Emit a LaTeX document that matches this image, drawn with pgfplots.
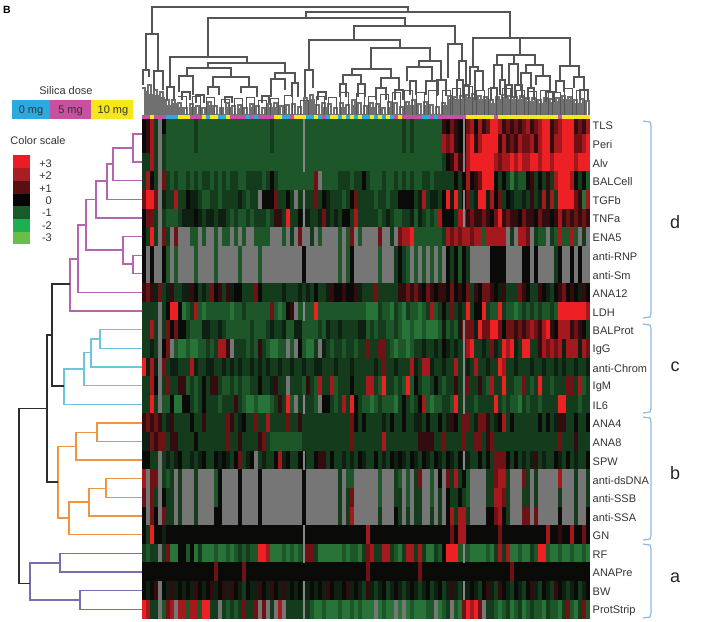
\documentclass[border=0pt]{standalone}
\usepackage{fontspec}
\setmainfont{Liberation Sans}
\usepackage{pgfplots}
\usepackage{pgfplotstable}
\pgfplotsset{compat=1.18}
\definecolor{dmag}{RGB}{181,101,172}
\definecolor{dcya}{RGB}{108,197,216}
\definecolor{dora}{RGB}{238,148,69}
\definecolor{dpur}{RGB}{123,108,173}
\definecolor{dblk}{RGB}{45,45,45}
\definecolor{dgry}{RGB}{85,85,85}
\definecolor{lgry}{RGB}{112,112,112}
\definecolor{brak}{RGB}{143,184,222}
\definecolor{mgry}{RGB}{135,135,135}
\pgfdeclareplotmark{cell}{\pgfpathrectangle{\pgfqpoint{-2.15pt}{-9.45pt}}{\pgfqpoint{4.3pt}{18.9pt}}\pgfusepathqfill}
\pgfdeclareplotmark{thincell}{\pgfpathrectangle{\pgfqpoint{-0.8pt}{-9.45pt}}{\pgfqpoint{1.6pt}{18.9pt}}\pgfusepathqfill}
\pgfdeclareplotmark{stripcell}{\pgfpathrectangle{\pgfqpoint{-2.1pt}{-1.7pt}}{\pgfqpoint{4.2pt}{3.4pt}}\pgfusepathqfill}
\pgfplotstableread[header=false]{
11 11 12 11 11 11 10 10 10 12  12 12 11 11 11 12 10 12 12 10  10 12 11 11 11 11 10 11 10 11  11 11 11 12 12 10 10 11 12 12  12 10 10 12 10 11 10 12 12 10  12 10 12 10 12 10 10 12 10 12  10 12 10 11 12 11 11 11 11 11  10 10 11 10 11 11 11 11 11 11  11 12 12 12 12 12 12 12 11 12  12 12 12 12 12 12 12 12 12 12  12 12 12 12 11 12 12 12 12 12  12 12
5 6 8 3 0 5 2 2 2 2  2 2 2 3 2 2 2 2 2 2  2 2 2 2 2 2 2 2 2 2  2 2 3 2 2 2 2 2 2 2  2 2 2 2 2 2 2 2 2 2  2 2 2 2 2 2 2 2 2 2  2 2 2 2 2 3 2 3 2 2  2 2 2 2 2 6 5 7 6 5  5 7 8 5 8 6 7 9 9 8  6 7 6 7 6 7 8 6 7 8  9 9 6 7 8 9 9 9 6 7  6 8
5 6 8 3 0 3 2 2 2 2  2 2 2 3 2 2 2 2 2 2  2 2 2 2 2 2 2 2 2 2  2 2 3 2 2 2 2 2 2 2  2 2 2 2 2 2 2 2 2 2  2 2 2 2 2 2 2 2 2 2  2 2 2 2 2 3 2 3 2 2  2 2 2 2 2 8 7 8 6 5  5 8 9 6 8 9 9 9 9 6  8 6 7 6 8 7 7 8 6 8  9 9 6 8 8 9 9 9 7 7  8 9
3 3 8 3 0 3 2 2 2 2  2 2 2 2 2 2 2 2 2 2  2 2 2 2 2 2 2 2 2 2  2 2 2 2 2 2 2 2 2 2  2 2 2 2 2 2 2 2 2 2  2 2 2 2 2 2 2 2 2 2  2 2 2 2 2 2 2 2 2 2  2 2 2 2 2 3 5 6 8 6  6 8 9 9 9 9 9 9 8 7  8 8 9 8 9 8 8 9 9 8  9 9 8 9 9 9 9 9 8 9  9 9
3 8 5 3 0 7 3 2 3 2  2 3 2 3 2 3 3 2 3 2  3 2 3 3 2 2 3 3 3 3  2 3 5 3 2 2 2 2 2 2  2 2 2 7 0 2 2 2 2 3  3 3 2 3 3 5 3 2 2 2  3 2 2 3 2 3 2 3 2 2  3 3 2 3 3 3 3 3 5 3  5 8 5 6 7 9 9 9 5 3  5 3 1 3 2 2 5 6 3 5  3 6 3 8 9 9 9 8 5 3  5 2
7 9 9 7 0 4 3 3 8 3  3 5 4 4 3 2 2 3 3 2  3 3 3 3 4 3 2 3 3 0  5 5 5 7 3 3 5 3 0 3  3 3 3 7 3 5 4 3 3 3  2 3 5 7 3 3 3 3 2 3  3 2 3 3 5 5 5 5 3 4  8 3 4 4 3 5 9 4 9 3  5 7 3 4 9 9 4 8 5 7  3 5 4 3 3 4 3 6 3 4  8 4 8 3 9 9 9 9 7 6  1 8
5 7 7 3 0 3 2 2 2 3  4 4 4 5 4 3 4 4 3 4  4 3 2 3 2 2 3 2 3 3  3 2 3 6 6 3 9 3 3 5  4 4 3 3 4 7 4 3 4 3  5 5 3 8 3 3 3 3 3 2  3 4 3 2 2 3 3 4 2 4  3 2 3 2 8 5 5 5 3 8  8 6 7 6 6 7 6 5 7 9  6 7 6 6 5 7 6 6 5 7  6 6 5 6 8 6 7 6 7 6  7 6
5 3 9 3 0 7 3 0 7 0  0 0 2 2 0 2 0 0 2 0  2 2 0 2 0 2 0 0 2 2  2 2 0 0 0 2 0 3 0 7  0 0 3 0 2 0 0 0 0 2  0 2 7 0 2 0 0 0 0 7  0 0 3 0 7 8 8 9 2 2  2 2 2 2 2 3 8 7 8 7  8 8 7 8 8 2 8 8 8 8  8 0 3 0 8 8 7 0 3 2  2 0 3 2 8 2 2 8 2 0  3 0
5 0 5 0 0 5 2 0 2 0  0 0 0 2 0 0 0 0 2 0  0 0 0 0 2 0 0 0 0 2  0 0 0 0 0 0 0 0 0 0  5 0 0 0 0 0 0 0 0 2  0 2 5 0 0 0 0 0 0 2  0 0 0 3 5 3 2 0 2 0  2 0 2 0 2 0 5 3 5 2  5 3 0 0 0 0 0 5 5 5  5 0 0 0 0 5 5 0 5 0  0 0 0 3 5 0 0 5 0 5  0 0
5 0 5 0 0 5 2 0 2 0  0 0 0 2 0 0 0 0 2 0  0 0 0 0 2 0 0 0 0 2  0 0 0 0 0 0 0 0 0 0  5 0 0 0 0 0 0 0 0 2  0 2 5 0 0 0 0 0 0 2  0 0 0 3 5 3 2 0 2 0  2 0 2 0 2 0 5 3 5 2  5 3 0 0 0 0 0 5 5 5  5 0 0 0 0 5 5 0 5 0  0 0 0 3 5 0 0 5 0 5  0 0
6 7 6 4 7 3 4 6 3 3  4 4 6 5 3 4 3 7 5 6  3 6 4 5 5 3 3 3 7 5  3 3 3 3 3 4 3 3 3 4  3 4 3 5 3 3 4 6 5 5  6 5 5 6 4 3 3 3 7 3  3 3 3 3 6 6 7 6 7 6  5 7 6 5 6 6 5 7 5 6  5 7 3 6 5 7 7 6 5 4  6 3 3 3 7 6 5 3 3 6  5 4 3 5 6 7 5 6 5 4  6 5
3 3 3 3 0 3 5 9 9 5  1 2 3 8 2 1 2 2 2 2  2 2 1 2 2 3 2 2 2 2  2 2 7 2 1 2 5 6 0 2  2 2 2 9 2 2 2 2 2 2  2 2 2 2 2 2 1 1 1 3  2 2 1 3 2 1 3 2 2 1  2 3 8 2 3 5 3 7 3 4  3 9 3 5 5 9 3 2 2 9  3 2 2 1 2 3 2 3 2 3  2 2 3 2 9 9 9 9 9 9  9 8
3 3 8 3 0 3 7 5 7 5  5 3 2 2 2 4 4 3 3 4  3 2 2 2 2 2 2 3 2 2  2 3 4 3 3 4 2 2 4 4  2 2 2 2 3 2 4 3 3 4  3 3 3 3 4 4 2 3 2 3  3 2 2 3 2 1 1 2 1 1  2 1 1 1 2 4 2 3 2 4  7 7 7 4 9 7 7 9 9 7  5 7 7 6 7 6 7 8 7 6  8 9 6 5 8 8 8 6 7 6  5 3
3 3 4 3 0 5 7 0 2 1  1 2 1 1 2 2 3 2 3 8  8 6 0 3 3 3 2 3 2 6  3 2 1 1 2 2 0 2 0 5  2 1 1 3 0 4 3 2 3 3  2 3 3 2 3 3 7 3 3 7  7 3 2 1 2 2 1 2 3 3  4 3 3 4 3 5 4 3 4 3  3 8 9 3 3 4 3 7 4 3  9 8 9 4 3 9 9 3 3 6  8 7 8 7 8 4 8 8 8 4  8 7
9 4 8 4 0 7 3 4 4 3  3 3 8 4 3 3 4 4 3 3  4 3 4 3 4 3 3 4 3 4  3 4 3 3 4 3 3 4 3 3  4 3 3 4 4 3 3 3 4 3  3 3 4 3 3 3 3 3 4 3  7 3 3 4 3 3 3 8 4 3  8 8 4 3 3 4 3 3 8 3  3 4 3 8 3 3 4 3 3 9  8 3 3 4 3 3 3 4 3 3  4 3 3 4 3 4 3 3 4 3  3 4
3 3 8 5 0 3 7 3 3 6  6 2 3 2 3 5 3 6 6 3  2 2 3 2 3 2 2 3 3 5  3 3 4 6 3 3 0 3 3 3  2 6 3 2 8 3 3 8 2 3  3 3 5 3 3 3 8 8 3 2  9 3 3 2 3 2 9 2 5 3  2 2 3 5 3 2 3 3 6 3  3 7 3 3 6 3 2 8 3 3  9 3 3 2 2 7 3 2 3 9  3 3 2 3 3 3 7 7 3 8  2 3
3 3 9 3 0 2 2 5 1 1  5 5 3 2 3 5 3 3 3 2  3 3 3 6 3 2 1 1 2 1  1 1 2 3 6 3 9 2 0 3  3 3 3 2 0 5 5 3 2 3  8 3 9 5 3 2 2 1 2 3  2 2 2 1 3 5 3 2 3 5  8 2 1 2 2 3 3 2 9 3  3 3 3 2 3 3 3 3 9 3  2 3 2 2 1 3 2 3 3 2  3 3 3 3 9 9 3 3 3 2  3 3
6 7 6 7 6 3 4 6 3 3  3 3 5 3 3 6 3 3 3 3  3 7 6 3 4 5 3 3 7 3  3 8 3 3 3 3 7 3 3 6  3 3 3 3 3 3 3 3 3 3  3 3 7 5 3 5 3 3 3 3  4 3 5 3 3 5 3 3 4 4  3 5 3 3 5 3 4 6 5 3  7 7 3 4 7 7 6 3 4 5  8 3 5 3 3 3 3 3 3 5  3 5 3 4 6 6 3 3 5 3  3 5
4 4 7 6 7 7 3 6 6 3  3 3 3 5 3 3 3 3 3 3  3 7 3 3 6 3 3 3 3 6  7 3 2 2 2 2 2 2 2 2  3 3 3 3 3 3 3 3 3 3  3 3 7 3 3 3 3 3 3 3  8 3 3 3 3 3 3 3 3 6  6 6 6 3 3 7 3 3 3 3  7 3 3 7 7 3 6 7 3 3  3 3 3 3 3 3 3 3 3 3  3 3 3 3 7 3 3 3 6 3  3 3
5 5 3 3 0 3 4 3 4 5  3 3 4 3 4 5 3 3 5 4  5 4 3 5 7 3 4 5 0 3  4 3 3 5 8 4 5 3 3 5  5 3 3 5 6 6 3 5 3 3  4 3 4 3 5 4 3 3 5 3  4 3 5 4 5 4 3 5 4 3  5 4 3 5 4 3 5 4 3 5  4 4 3 3 5 3 5 3 7 7  7 5 3 5 3 4 3 4 6 3  4 3 3 5 4 3 5 3 4 3  3 5
8 0 7 7 0 3 2 3 0 3  0 0 0 3 0 0 0 0 2 5  0 0 0 0 5 0 0 0 0 5  0 0 0 0 0 0 0 0 0 0  5 0 0 0 0 0 0 0 0 3  0 2 2 0 0 0 0 0 0 2  0 0 0 3 2 0 2 0 3 7  0 0 2 0 5 0 7 3 8 3  5 2 0 0 0 0 3 3 7 8  8 3 0 0 0 7 3 0 3 0  0 0 0 0 8 0 0 0 3 0  0 3
7 0 7 3 0 5 3 3 0 3  0 0 0 3 0 0 0 0 2 5  0 0 0 0 5 0 0 0 0 5  0 0 0 0 0 0 0 0 0 0  5 0 0 0 0 0 0 0 0 3  0 3 7 0 0 0 0 0 0 2  0 0 0 3 3 0 2 0 3 3  0 0 2 0 3 0 5 3 3 5  3 2 0 0 0 0 3 3 8 8  7 3 0 0 0 3 3 0 3 0  0 0 0 0 3 0 0 0 3 0  0 3
5 0 7 5 0 7 3 3 0 3  0 0 0 3 0 0 0 0 5 5  0 0 0 0 5 0 0 0 0 5  0 0 0 0 0 0 0 0 0 0  5 0 0 0 0 0 0 0 0 3  0 3 8 0 0 0 0 0 0 3  0 0 0 5 3 0 3 0 3 3  0 0 3 0 3 0 5 8 3 8  8 3 0 0 0 0 5 5 7 8  5 3 0 0 0 7 7 0 7 0  0 0 0 0 5 0 0 0 3 0  0 5
5 3 9 5 5 4 5 5 5 5  5 5 5 5 5 5 5 5 5 5  5 5 5 5 5 5 5 5 5 5  5 5 5 5 5 5 5 5 5 5  5 5 5 5 5 5 5 5 5 5  5 5 5 5 5 5 8 5 5 5  5 5 5 5 5 5 5 5 5 5  5 5 5 5 5 5 5 7 5 8  8 5 5 5 5 5 5 5 5 7  5 5 5 5 5 5 5 5 5 5  5 8 5 5 6 5 5 8 5 5  7 5
3 2 3 3 0 3 7 1 1 5  5 2 5 1 3 1 1 1 2 1  1 2 1 2 3 2 3 2 2 9  9 8 1 1 1 2 1 2 1 2  3 7 7 3 1 1 1 1 1 1  2 1 2 2 1 3 7 8 3 3  8 8 3 2 1 3 8 8 3 8  3 1 1 3 2 5 9 9 9 2  2 2 1 1 1 1 2 1 3 8  3 8 1 1 2 1 1 3 2 9  9 2 1 1 2 1 1 2 1 1  2 1
5 5 5 5 5 5 5 5 5 5  5 5 5 5 5 5 5 5 7 5  5 5 5 5 5 7 5 5 5 5  5 5 5 5 5 5 5 5 5 5  5 5 5 5 5 5 5 5 5 5  5 5 5 5 5 5 7 5 5 5  5 5 5 5 5 5 5 5 5 7  5 5 5 5 5 5 5 5 5 5  5 5 5 5 5 5 5 5 5 5  5 5 7 5 5 5 5 5 5 5  5 5 5 5 5 5 5 5 5 5  5 5
5 4 5 6 0 5 4 6 4 5  4 5 4 6 5 4 5 6 4 5  6 4 6 5 4 3 5 4 4 6  5 4 6 5 4 6 4 5 4 5  4 4 5 4 5 4 6 5 4 4  5 6 4 5 4 3 6 4 3 4  5 3 4 5 4 3 4 5 4 3  4 5 3 4 5 3 4 6 4 3  4 4 5 4 3 5 6 4 3 6  5 4 3 5 4 3 5 6 4 3  5 4 3 6 5 4 3 4 5 3  4 5
9 8 3 3 0 2 7 8 0 8  8 2 8 8 2 9 9 3 3 0  3 2 3 2 3 7 3 3 7 0  7 0 3 0 8 0 3 3 3 3  3 3 2 1 1 2 1 1 1 2  1 1 2 1 2 1 1 1 0 1  2 1 1 0 1 0 1 2 1 1  1 2 2 0 1 2 3 0 2 1  7 9 8 9 7 0 3 3 2 1  2 3 1 2 3 1 2 3 2 2  1 3 2 2 1 3 7 2 1 3  7 2
}\rawheat
\pgfplotstabletranspose\heat{\rawheat}
\begin{document}
\begin{tikzpicture}[x=1pt,y=1pt,every node/.style={font=\fontsize{11}{13}\selectfont,text=black!80,inner sep=0pt}]
\useasboundingbox (0,0) rectangle (708,621);
\begin{axis}[at={(0,0)},anchor=south west,width=708pt,height=621pt,scale only axis,
  xmin=0,xmax=708,ymin=0,ymax=621,y dir=reverse,hide axis,clip=false,
  unbounded coords=jump,
  point meta min=0,point meta max=12,
  colormap={heat}{rgb255(0)=(118,118,118) rgb255(1)=(40,115,55) rgb255(2)=(29,86,41) rgb255(3)=(20,60,28) rgb255(4)=(14,32,18) rgb255(5)=(10,10,9) rgb255(6)=(50,12,14) rgb255(7)=(110,18,22) rgb255(8)=(165,25,30) rgb255(9)=(237,32,36) rgb255(10)=(41,171,226) rgb255(11)=(201,79,160) rgb255(12)=(247,231,26)}]
% heat map
\pgfplotsinvokeforeach{1,...,27}{
\addplot[scatter,only marks,mark=cell,point meta=\thisrow{#1}] table[x expr=144+4*\thisrow{colnames},y expr=124.8+18.63*(#1-1)] {\heat};
}
\addplot[only marks,mark=thincell,color=mgry,mark options={fill=mgry}] coordinates {(304,124.8)(304,143.4)(304,162.1)(304,199.3)(304,218)(304,311.1)(304,404.3)(304,460.1)(304,534.7)(304,553.3)(304,590.5)(304,609.2)(464,124.8)(464,143.4)(464,162.1)(464,199.3)(464,218)(464,329.7)(464,348.4)(464,367)(464,385.6)(464,404.3)(464,460.1)(464,553.3)(464,590.5)};
\addplot[scatter,only marks,mark=stripcell,point meta=\thisrow{0}] table[x expr=144+4*\thisrow{colnames},y expr=116.8] {\heat};
% top dendrogram: fine leaves
\addplot[const plot,no marks,color=lgry,line width=1.15pt] coordinates {(142,88)(145,115)(148,85)(151,115)(154,90)(157,115)(160,92)(163,115)(166,100)(169,115)(172,100)(175,115)(178,103)(181,115)(184,108)(187,115)(190,104)(193,115)(196,106)(199,115)(202,108)(205,115)(208,102)(211,115)(214,106)(217,115)(220,108)(223,115)(226,103)(229,115)(232,106)(235,115)(238,105)(241,115)(244,108)(247,115)(250,104)(253,115)(256,106)(259,115)(262,108)(265,115)(268,104)(271,115)(274,103)(277,115)(280,106)(283,115)(286,105)(289,115)(292,104)(295,115)(298,107)(301,115)(304,98)(307,115)(310,95)(313,115)(316,105)(319,115)(322,103)(325,115)(328,104)(331,115)(334,108)(337,115)(340,103)(343,115)(346,105)(349,115)(352,100)(355,115)(358,103)(361,115)(364,106)(367,115)(370,103)(373,115)(376,104)(379,115)(382,108)(385,115)(388,102)(391,115)(394,103)(397,115)(400,107)(403,115)(406,102)(409,115)(412,100)(415,115)(418,104)(421,115)(424,102)(427,115)(430,105)(433,115)(436,107)(439,115)(442,103)(445,115)(448,96)(451,115)(454,97)(457,115)(460,96)(463,115)(466,95)(469,115)(472,94)(475,115)(478,96)(481,115)(484,97)(487,115)(490,100)(493,115)(496,97)(499,115)(502,95)(505,115)(508,96)(511,115)(514,97)(517,115)(520,96)(523,115)(526,98)(529,115)(532,98)(535,115)(538,100)(541,115)(544,98)(547,115)(550,99)(553,115)(556,98)(559,115)(562,96)(565,115)(568,97)(571,115)(574,100)(577,115)(580,99)(583,115)(586,101)(589,115)};
\addplot[const plot,no marks,color=lgry,line width=1.15pt] coordinates {(143.5,92)(146.5,115)(149.5,95)(152.5,115)(155.5,96)(158.5,115)(161.5,98)(164.5,115)(167.5,106)(170.5,115)(173.5,104)(176.5,115)(179.5,108)(182.5,115)(191.5,108)(194.5,115)(209.5,106)(212.5,115)(227.5,108)(230.5,115)(239.5,109)(242.5,115)(251.5,108)(254.5,115)(269.5,108)(272.5,115)(275.5,108)(278.5,115)(305.5,102)(308.5,115)(311.5,100)(314.5,115)(323.5,108)(326.5,115)(341.5,108)(344.5,115)(353.5,106)(356.5,115)(371.5,108)(374.5,115)(389.5,108)(392.5,115)(407.5,106)(410.5,115)(413.5,106)(416.5,115)(425.5,106)(428.5,115)(443.5,106)(446.5,115)(449.5,100)(452.5,115)(455.5,100)(458.5,115)(461.5,100)(464.5,115)(467.5,98)(470.5,115)(473.5,98)(476.5,115)(479.5,100)(482.5,115)(485.5,100)(488.5,115)(491.5,104)(494.5,115)(497.5,100)(500.5,115)(503.5,98)(506.5,115)(509.5,100)(512.5,115)(515.5,100)(518.5,115)(521.5,100)(524.5,115)(527.5,102)(530.5,115)(533.5,102)(536.5,115)(539.5,104)(542.5,115)(545.5,102)(548.5,115)(551.5,103)(554.5,115)(557.5,102)(560.5,115)(563.5,100)(566.5,115)(569.5,100)(572.5,115)(575.5,104)(578.5,115)(581.5,104)(584.5,115)};
% top dendrogram: middle level
\addplot[const plot,no marks,color=dgry,line width=0.95pt] coordinates {(178,96)(186,115)(192,96)(200,115)(206,97)(214,115)(221,99)(229,115)(234,98)(242,115)(246,97)(254,115)(258,100)(266,115)(270,98)(278,115)(284,95)(292,115)(300,100)(308,115)(316,96)(324,115)(328,97)(336,115)(340,92)(348,115)(356,93)(364,115)(368,96)(376,115)(380,94)(388,115)(392,92)(400,115)(404,90)(412,115)(416,92)(424,115)(428,90)(436,115)(442,90)(450,115)(452,88)(460,115)(464,86)(472,115)(476,90)(484,115)(488,88)(496,115)(502,88)(510,115)(516,90)(524,115)(528,91)(536,115)(540,90)(548,115)(552,92)(560,115)(564,88)(572,115)(576,90)(584,115)};
% top dendrogram: upper branches
\addplot[no marks,color=dgry,line width=1.15pt] coordinates {
(152,34)(152,7)(408,7)(408,12)(0,nan)
(306,18)(306,12)(510,12)(510,38)(0,nan)
(146,70)(146,34)(158,34)(158,71)(0,nan)
(143,85)(143,70)(149,70)(149,77)(0,nan)
(154,90)(154,71)(163,71)(163,90)(0,nan)
(208,57)(208,18)(405,18)(405,26)(0,nan)
(170,87)(170,57)(247,57)(247,63)(0,nan)
(167,100)(167,87)(174,87)(174,100)(0,nan)
(208,68)(208,63)(285,63)(285,73)(0,nan)
(187,76)(187,68)(231,68)(231,77)(0,nan)
(179,92)(179,76)(193,76)(193,95)(0,nan)
(213,87)(213,77)(249,77)(249,87)(0,nan)
(208,95)(208,87)(219,87)(219,95)(0,nan)
(241,93)(241,87)(257,87)(257,97)(0,nan)
(275,79)(275,73)(295,73)(295,83)(0,nan)
(271,97)(271,79)(285,79)(285,90)(0,nan)
(292,97)(292,83)(298,83)(298,97)(0,nan)
(354,40)(354,26)(455,26)(455,44)(0,nan)
(309,70)(309,40)(400,40)(400,48)(0,nan)
(305,97)(305,70)(313,70)(313,88)(0,nan)
(371,69)(371,48)(430,48)(430,61)(0,nan)
(352,75)(352,69)(391,69)(391,78)(0,nan)
(343,84)(343,75)(361,75)(361,84)(0,nan)
(381,88)(381,78)(399,78)(399,90)(0,nan)
(448,78)(448,44)(462,44)(462,61)(0,nan)
(419,67)(419,61)(441,61)(441,80)(0,nan)
(407,81)(407,67)(432,67)(432,81)(0,nan)
(459,80)(459,61)(466,61)(466,85)(0,nan)
(473,67)(473,38)(570,38)(570,66)(0,nan)
(470,85)(470,67)(478,67)(478,71)(0,nan)
(475,100)(475,71)(483,71)(483,90)(0,nan)
(560,81)(560,66)(579,66)(579,77)(0,nan)
(520,55)(520,38)(0,nan)
(497,65)(497,55)(535,55)(535,65)(0,nan)
(494,88)(494,65)(502,65)(502,80)(0,nan)
(514,64)(514,55)(0,nan)
(509,85)(509,64)(518,64)(518,85)(0,nan)
(526,73)(526,65)(543,65)(543,76)(0,nan)
(521,90)(521,73)(531,73)(531,88)(0,nan)
(536,85)(536,76)(550,76)(550,92)(0,nan)
(556,92)(556,81)(564,81)(564,92)(0,nan)
(574,88)(574,77)(584,77)(584,90)(0,nan)
(410,95)(410,81)(416,81)(416,95)(0,nan)
(426,95)(426,81)(438,81)(438,95)(0,nan)
(437,96)(437,80)(446,80)(446,96)(0,nan)
(457,96)(457,80)(463,80)(463,96)(0,nan)
(464,98)(464,85)(469,85)(469,98)(0,nan)
(491,100)(491,88)(497,88)(497,100)(0,nan)
(500,95)(500,80)(505,80)(505,95)(0,nan)
(506,98)(506,85)(512,85)(512,98)(0,nan)
(515,98)(515,85)(522,85)(522,98)(0,nan)
(528,100)(528,88)(534,88)(534,100)(0,nan)
(546,102)(546,92)(554,92)(554,102)(0,nan)
(580,100)(580,90)(588,90)(588,100)(0,nan)
(376,100)(376,88)(386,88)(386,100)(0,nan)
(395,100)(395,90)(403,90)(403,100)(0,nan)
(340,97)(340,84)(346,84)(346,97)(0,nan)
(358,97)(358,84)(365,84)(365,97)(0,nan)
(318,100)(318,92)(326,92)(326,100)(0,nan)
(182,100)(182,92)(190,92)(190,100)(0,nan)
(196,103)(196,95)(204,95)(204,103)(0,nan)
(225,103)(225,97)(232,97)(232,103)(0,nan)
(262,103)(262,96)(269,96)(269,103)
};
% left dendrogram
\addplot[no marks,color=dmag,line width=1.25pt] coordinates {
(142,134)(133,134)(133,162.1)(142,162.1)(0,nan)
(133,148)(113,148)(113,180.7)(142,180.7)(0,nan)
(113,164)(107,164)(107,199.3)(142,199.3)(0,nan)
(107,181)(96,181)(96,218)(142,218)(0,nan)
(96,199.5)(86,199.5)(86,250)(123,250)(0,nan)
(142,236.6)(123,236.6)(123,264)(133,264)(0,nan)
(142,255.2)(133,255.2)(133,273.8)(142,273.8)(0,nan)
(86,225)(78,225)(78,292.5)(142,292.5)(0,nan)
(78,259)(70,259)(70,311.1)(142,311.1)
};
\addplot[no marks,color=dcya,line width=1.25pt] coordinates {
(84,369)(64,369)(64,404.3)(142,404.3)(0,nan)
(91,352.7)(84,352.7)(84,385.6)(142,385.6)(0,nan)
(100,339)(91,339)(91,367)(142,367)(0,nan)
(142,329.7)(100,329.7)(100,348.4)(142,348.4)
};
\addplot[no marks,color=dora,line width=1.25pt] coordinates {
(76,446.7)(58,446.7)(58,518)(69,518)(0,nan)
(97,432.7)(76,432.7)(76,460.1)(142,460.1)(0,nan)
(142,422.9)(97,422.9)(97,441.5)(142,441.5)(0,nan)
(89,502)(69,502)(69,534.7)(142,534.7)(0,nan)
(106,488.7)(89,488.7)(89,516)(142,516)(0,nan)
(142,478.8)(106,478.8)(106,497.4)(142,497.4)
};
\addplot[no marks,color=dpur,line width=1.25pt] coordinates {
(60,563)(30,563)(30,600)(80,600)(0,nan)
(142,553.3)(60,553.3)(60,571.9)(142,571.9)(0,nan)
(142,590.5)(80,590.5)(80,609.2)(142,609.2)
};
\addplot[no marks,color=dblk,line width=1.25pt] coordinates {
(70,284)(52,284)(52,386)(64,386)(0,nan)
(52,335)(47,335)(47,482)(58,482)(0,nan)
(47,408.7)(19,408.7)(19,583.7)(30,583.7)
};
% brackets
\addplot[no marks,color=brak,line width=1.2pt] coordinates {
(643,121)(650,122)(651,126)(651,313)(650,317)(643,318)(0,nan)
(643,324)(650,325)(651,329)(651,408)(650,412)(643,413)(0,nan)
(643,417)(650,418)(651,422)(651,535)(650,539)(643,540)(0,nan)
(643,544)(650,545)(651,549)(651,613)(650,617)(643,618)
};
% legends
\addplot[fill={rgb,255:red,41;green,171;blue,226},draw=none] coordinates {(12,100)(50,100)(50,119)(12,119)} -- cycle;
\addplot[fill={rgb,255:red,201;green,79;blue,160},draw=none] coordinates {(50,100)(91,100)(91,119)(50,119)} -- cycle;
\addplot[fill={rgb,255:red,247;green,231;blue,26},draw=none] coordinates {(91,100)(133,100)(133,119)(91,119)} -- cycle;
\addplot[fill={rgb,255:red,237;green,28;blue,36},draw=none] coordinates {(13,155)(30,155)(30,168)(13,168)} -- cycle;
\addplot[fill={rgb,255:red,168;green,30;blue,34},draw=none] coordinates {(13,168)(30,168)(30,181)(13,181)} -- cycle;
\addplot[fill={rgb,255:red,90;green,15;blue,18},draw=none] coordinates {(13,181)(30,181)(30,193.5)(13,193.5)} -- cycle;
\addplot[fill={rgb,255:red,6;green,6;blue,6},draw=none] coordinates {(13,193.5)(30,193.5)(30,206)(13,206)} -- cycle;
\addplot[fill={rgb,255:red,26;green,90;blue,42},draw=none] coordinates {(13,206)(30,206)(30,219)(13,219)} -- cycle;
\addplot[fill={rgb,255:red,30;green,176;blue,80},draw=none] coordinates {(13,219)(30,219)(30,231.5)(13,231.5)} -- cycle;
\addplot[fill={rgb,255:red,106;green,189;blue,69},draw=none] coordinates {(13,231.5)(30,231.5)(30,244)(13,244)} -- cycle;
% text
\node[anchor=center,font=\bfseries\fontsize{10.5}{12}\selectfont,text=black] at (axis cs:7,10) {B};
\node at (axis cs:66,91) {Silica dose};
\node at (axis cs:31,110.5) {0 mg};
\node at (axis cs:70.5,110.5) {5 mg};
\node at (axis cs:113,110.5) {10 mg};
\node at (axis cs:38,141) {Color scale};
\node[anchor=east] at (axis cs:52,163.5) {+3};
\node[anchor=east] at (axis cs:52,176) {+2};
\node[anchor=east] at (axis cs:52,188.5) {+1};
\node[anchor=east] at (axis cs:52,200.5) {0};
\node[anchor=east] at (axis cs:52,213) {-1};
\node[anchor=east] at (axis cs:52,225.5) {-2};
\node[anchor=east] at (axis cs:52,237.5) {-3};
\node[anchor=west] at (axis cs:592.5,126) {TLS};
\node[anchor=west] at (axis cs:592.5,144.7) {Peri};
\node[anchor=west] at (axis cs:592.5,163.3) {Alv};
\node[anchor=west] at (axis cs:592.5,182) {BALCell};
\node[anchor=west] at (axis cs:592.5,200.6) {TGFb};
\node[anchor=west] at (axis cs:592.5,219.2) {TNFa};
\node[anchor=west] at (axis cs:592.5,237.9) {ENA5};
\node[anchor=west] at (axis cs:592.5,256.5) {anti-RNP};
\node[anchor=west] at (axis cs:592.5,275.1) {anti-Sm};
\node[anchor=west] at (axis cs:592.5,293.8) {ANA12};
\node[anchor=west] at (axis cs:592.5,312.4) {LDH};
\node[anchor=west] at (axis cs:592.5,331) {BALProt};
\node[anchor=west] at (axis cs:592.5,349.6) {IgG};
\node[anchor=west] at (axis cs:592.5,368.3) {anti-Chrom};
\node[anchor=west] at (axis cs:592.5,386.9) {IgM};
\node[anchor=west] at (axis cs:592.5,405.5) {IL6};
\node[anchor=west] at (axis cs:592.5,424.2) {ANA4};
\node[anchor=west] at (axis cs:592.5,442.8) {ANA8};
\node[anchor=west] at (axis cs:592.5,461.4) {SPW};
\node[anchor=west] at (axis cs:592.5,480.1) {anti-dsDNA};
\node[anchor=west] at (axis cs:592.5,498.7) {anti-SSB};
\node[anchor=west] at (axis cs:592.5,517.3) {anti-SSA};
\node[anchor=west] at (axis cs:592.5,536) {GN};
\node[anchor=west] at (axis cs:592.5,554.6) {RF};
\node[anchor=west] at (axis cs:592.5,573.2) {ANAPre};
\node[anchor=west] at (axis cs:592.5,591.9) {BW};
\node[anchor=west] at (axis cs:592.5,610.5) {ProtStrip};
\node[font=\fontsize{18}{20}\selectfont,text=black!85] at (axis cs:675,222) {d};
\node[font=\fontsize{18}{20}\selectfont,text=black!85] at (axis cs:675,367) {c};
\node[font=\fontsize{18}{20}\selectfont,text=black!85] at (axis cs:675,473) {b};
\node[font=\fontsize{18}{20}\selectfont,text=black!85] at (axis cs:675,578) {a};
\end{axis}
\end{tikzpicture}
\end{document}
